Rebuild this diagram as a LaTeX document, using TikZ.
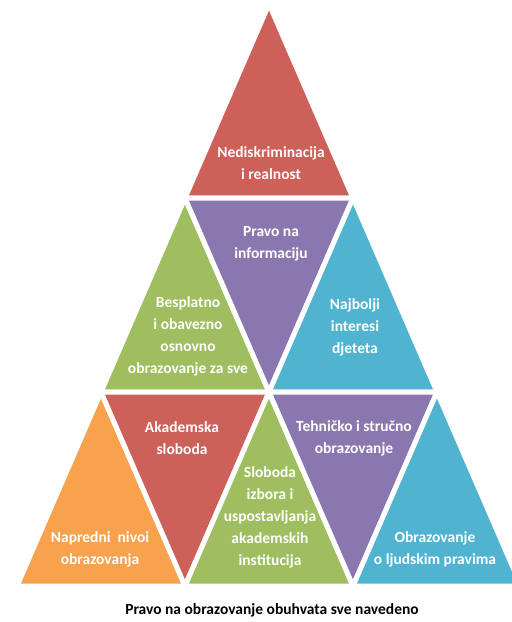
\documentclass[tikz,border=0pt]{standalone}
\usepackage{fontspec}
\setmainfont{Carlito}
\definecolor{tred}{RGB}{206,96,90}
\definecolor{tpurple}{RGB}{139,119,176}
\definecolor{tgreen}{RGB}{158,190,96}
\definecolor{tblue}{RGB}{80,180,208}
\definecolor{torange}{RGB}{248,162,78}

\begin{document}
\begin{tikzpicture}[x=1pt,y=-1pt]
                \tikzstyle{tri}=[draw=white,line width=5pt,line join=miter]
                \tikzstyle{lbl}=[text=white,font=\bfseries\fontsize{15.5}{22}\selectfont,align=center,inner sep=0pt]
                
                \useasboundingbox (0,0) rectangle (512,622);
                \clip (0,0) rectangle (512,622);
                
                \coordinate (a) at (269,4);
                \coordinate (b1) at (185,198);
                \coordinate (b2) at (353,198);
                \coordinate (c1) at (101,392);
                \coordinate (c2) at (269,392);
                \coordinate (c3) at (437,392);
                \coordinate (d1) at (17,586);
                \coordinate (d2) at (185,586);
                \coordinate (d3) at (353,586);
                \coordinate (d4) at (521,586);
                
                \filldraw[tri,fill=tred] (a) -- (b1) -- (b2) -- cycle;
                
                \filldraw[tri,fill=tgreen] (b1) -- (c1) -- (c2) -- cycle;
                \filldraw[tri,fill=tpurple] (b1) -- (b2) -- (c2) -- cycle;
                \filldraw[tri,fill=tblue] (b2) -- (c2) -- (c3) -- cycle;
                
                \filldraw[tri,fill=torange] (c1) -- (d1) -- (d2) -- cycle;
                \filldraw[tri,fill=tred] (c1) -- (c2) -- (d2) -- cycle;
                \filldraw[tri,fill=tgreen] (c2) -- (d2) -- (d3) -- cycle;
                \filldraw[tri,fill=tpurple] (c2) -- (c3) -- (d3) -- cycle;
                \filldraw[tri,fill=tblue] (c3) -- (d3) -- (d4) -- cycle;
                
                \node[lbl] (nediskr) at (271,163) {Nediskriminacija\\i realnost};
                \node[lbl] (informacija) at (271,244) {Pravo na\\informaciju};
                \node[lbl] (besplatno) at (188,336) {Besplatno\\i obavezno\\osnovno\\obrazovanje za sve};
                \node[lbl] (interesi) at (355,327) {Najbolji\\interesi\\djeteta};
                \node[lbl] (akademska) at (182,438) {Akademska\\sloboda};
                \node[lbl] (tehnicko) at (354,438) {Tehničko i stručno\\obrazovanje};
                \node[lbl] (izbor) at (270,517) {Sloboda\\izbora i\\uspostavljanja\\akademskih\\institucija};
                \node[lbl] (napredni) at (100,549) {Napredni\ \ nivoi\\obrazovanja};
                \node[lbl] (ljudska) at (435,549) {Obrazovanje\\o ljudskim pravima};
                
                \node[font=\bfseries\fontsize{15.5}{18}\selectfont,inner sep=0pt] (caption) at (272,610) {Pravo na obrazovanje obuhvata sve navedeno};
                
                \end{tikzpicture}
\end{document}
